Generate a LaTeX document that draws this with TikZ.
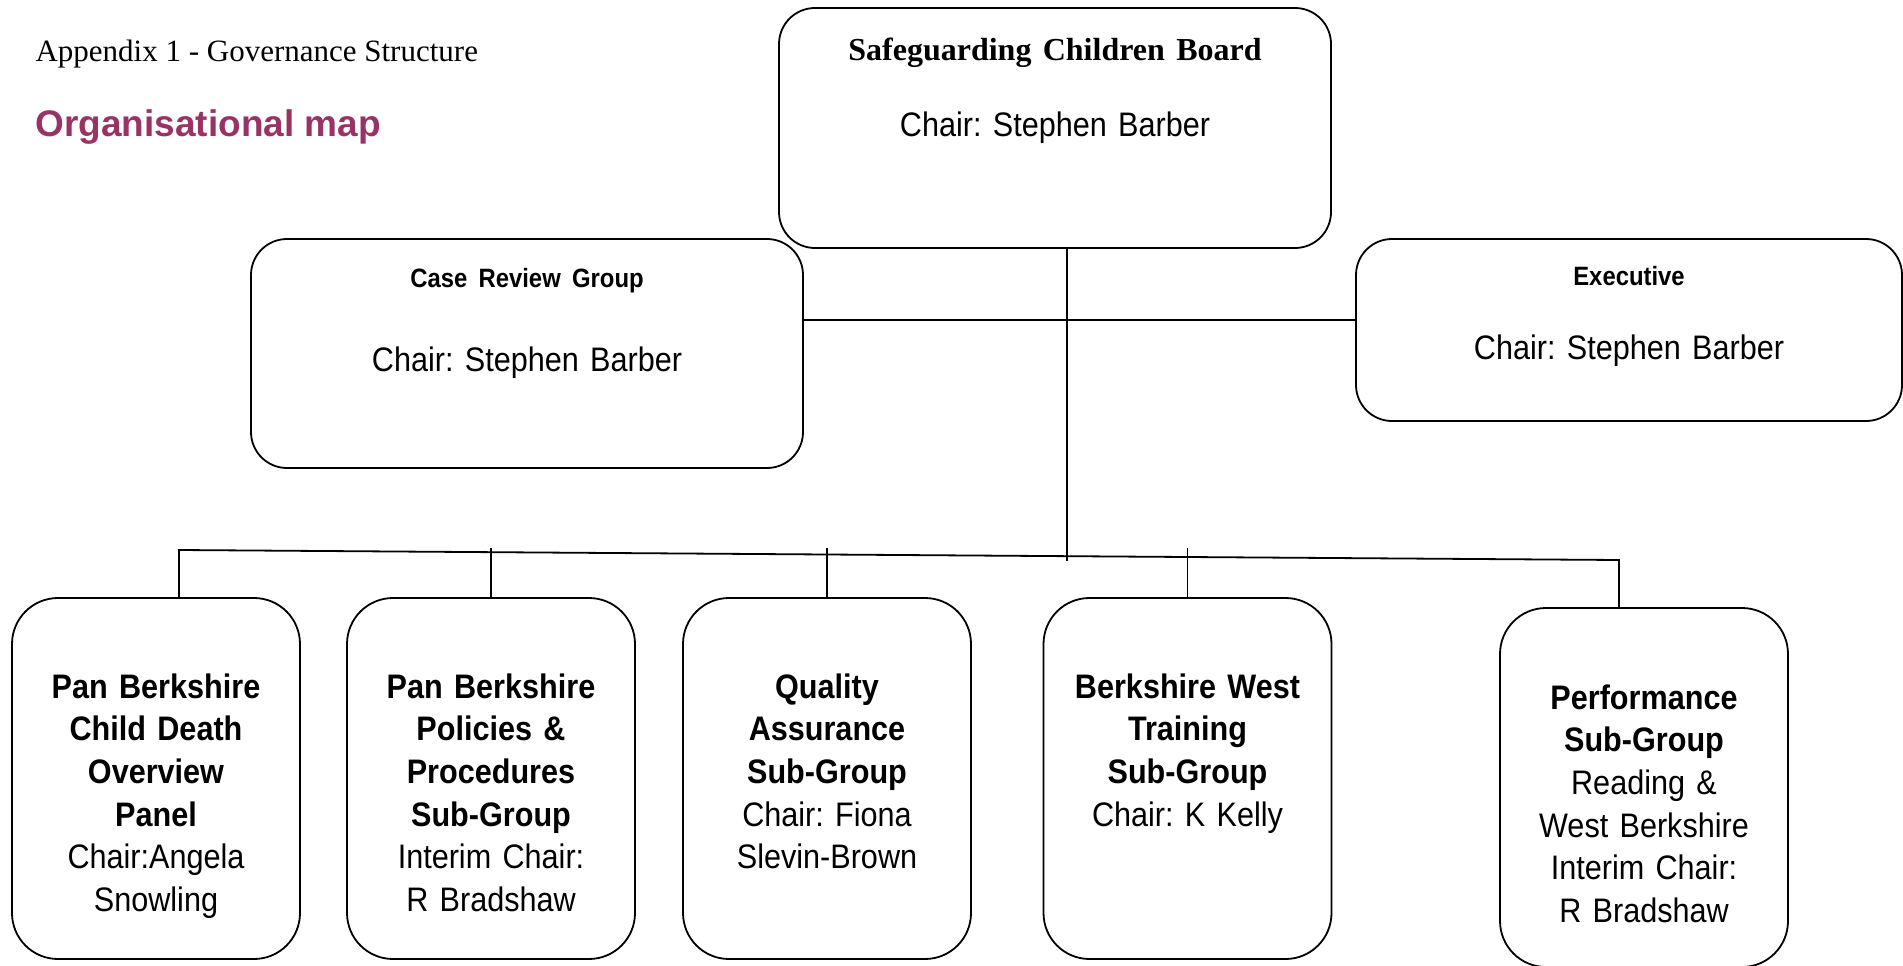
\documentclass[tikz,border=0pt]{standalone}
\usepackage{fontspec}
\setmainfont{Liberation Serif}
\newfontfamily\narrowsans[FakeStretch=0.9]{Liberation Sans}
\newfontfamily\plainsans{Liberation Sans}
\definecolor{mapplum}{RGB}{153,51,102}
\frenchspacing

\tikzset{
  grpbox/.style={draw, line width=1.8pt, rounded corners=36pt, inner xsep=0pt, inner ysep=0pt,
    align=center, font=\narrowsans\fontsize{34}{42.7}\selectfont},
  subbox/.style={grpbox, rounded corners=46pt, text width=288pt, text height=100pt, text depth=261pt},
  link/.style={line width=1.8pt}
}
\newcommand{\grphead}[1]{{\fontsize{26.5}{30}\selectfont\bfseries #1}}

\begin{document}
\begin{tikzpicture}[x=1pt, y=-1pt]
    \useasboundingbox (0,0) rectangle (1903,966);

    \node[anchor=base west, font=\fontsize{31}{36}\selectfont] (appx) at (32,62) {Appendix 1 - Governance Structure};
    \node[anchor=base west, font=\plainsans\bfseries\fontsize{37}{42}\selectfont, text=mapplum] (orgmap) at (32,136) {Organisational map};

    \node[grpbox, text width=552pt, text height=52pt, text depth=188pt] (board) at (1055,128)
      {{\rmfamily\bfseries\fontsize{32}{36}\selectfont Safeguarding Children Board}\\[34.3pt] Chair: Stephen Barber};
    \node[grpbox, text width=552pt, text height=48pt, text depth=181pt] (crg) at (527,353.5)
      {\grphead{Case Review Group}\\[41.3pt] Chair: Stephen Barber};
    \node[grpbox, text width=546pt, text height=46pt, text depth=136pt] (exec) at (1629,330)
      {\grphead{Executive}\\[31.3pt] Chair: Stephen Barber};

    \node[subbox] (cdop) at (156,778.5) {{\bfseries Pan Berkshire\\ Child Death\\ Overview\\ Panel}\\ Chair:Angela\\ Snowling};
    \node[subbox] (ppsg) at (491,778.5) {{\bfseries Pan Berkshire\\ Policies \&\\ Procedures\\ Sub-Group}\\ Interim Chair:\\ R Bradshaw};
    \node[subbox] (qasg) at (827,778.5) {{\bfseries Quality\\ Assurance\\ Sub-Group}\\ Chair: Fiona\\ Slevin-Brown};
    \node[subbox] (trsg) at (1187.5,778.5) {{\bfseries Berkshire West\\ Training\\ Sub-Group}\\ Chair: K Kelly};
    \node[subbox, text height=101pt, text depth=258pt] (perf) at (1644,787.5) {{\bfseries Performance\\ Sub-Group}\\ Reading \&\\ West Berkshire\\ Interim Chair:\\ R Bradshaw};

    \coordinate (trunk) at (1067,561);
    \coordinate (busL) at (179,550);
    \coordinate (busR) at (1619,560);

    \draw[link] (board.south -| trunk) -- (trunk);
    \draw[link] (crg.east |- 0,320) -- (exec.west |- 0,320);
    \draw[link] (cdop.north -| busL) -- (busL) -- (busR) -- (perf.north -| busR); % sloping bus to the sub-groups
    \foreach \n in {ppsg,qasg,trsg} {
        \draw[link] (\n.north) -- ++(0,-49);
      }
\end{tikzpicture}
\end{document}
